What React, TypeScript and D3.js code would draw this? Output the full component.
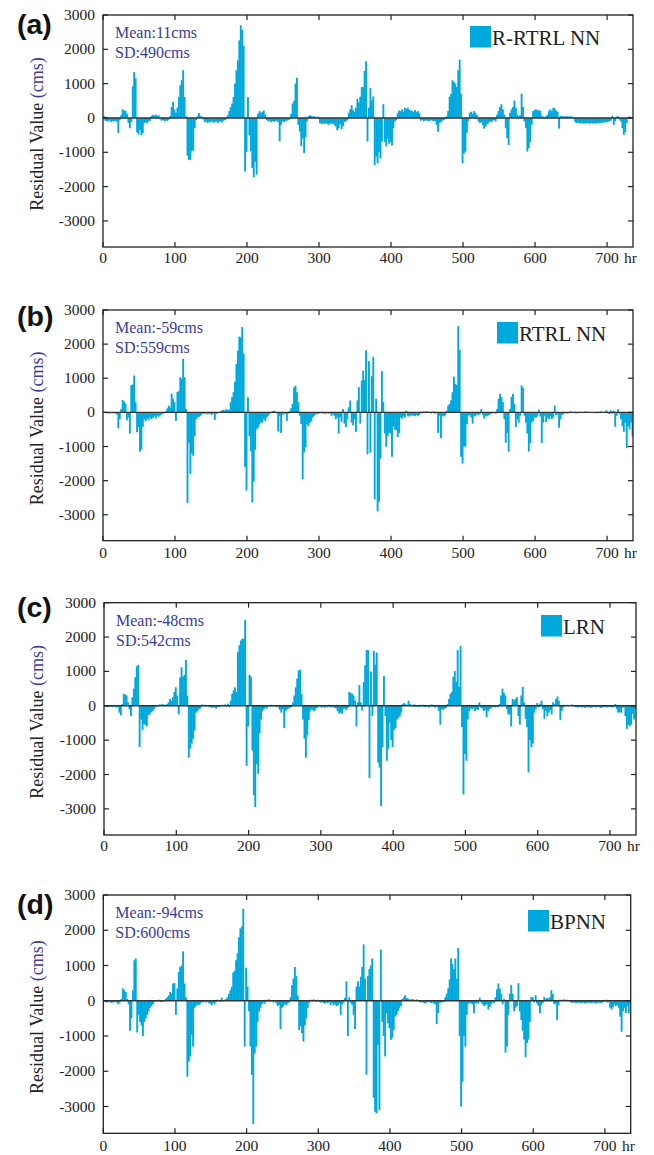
import React from "react";
import * as d3 from "d3";

// Hourly residuals aggregated into 2-hour bars, in cms.
const HOURS_PER_BAR = 2;
const HOUR_DOMAIN: [number, number] = [0, 736];
const VALUE_DOMAIN: [number, number] = [-3760, 3000];

const hourTicks = [0, 100, 200, 300, 400, 500, 600, 700];
const valueTicks = [3000, 2000, 1000, 0, -1000, -2000, -3000];

const panelLetters = ["(a)", "(b)", "(c)", "(d)"];
const modelNames = ["R-RTRL NN", "RTRL NN", "LRN", "BPNN"];
const meanLabels = ["Mean:11cms", "Mean:-59cms", "Mean:-48cms", "Mean:-94cms"];
const sdLabels = ["SD:490cms", "SD:559cms", "SD:542cms", "SD:600cms"];

const residualsRRTRL = [
  60, -80, -90, -100, -70, -120, -90, -100, -80, -110,
  -440, -60, 80, 250, 220, 200, 120, -150, -300, -120,
  920, 1340, 1150, -420, -480, -350, -500, -440, -150, -120,
  -160, -100, -80, 60, 90, 70, 100, 60, 80, -40,
  -80, -60, -100, -70, -90, -50, 60, 320, 470, 250,
  150, 300, 610, 950, 1100, 1390, 610, 50, -1100, -1220,
  -1220, -970, -950, -300, -60, 50, 140, 60, 40, -40,
  -120, -100, -150, -110, -130, -90, -140, -120, -100, -150,
  -110, -90, -130, -80, -60, -40, 80, 200, 320, 420,
  610, 1000, 1390, 1680, 2260, 2700, 2570, 2110, -1560, -990,
  610, -500, -970, -1460, -1730, -1280, -1650, 120, 200, 150,
  180, 220, 100, -60, -100, -80, -120, -90, -110, -100,
  -80, -120, -680, -200, -100, -120, -90, -80, -60, -40,
  120, 420, 500, 1000, 1170, -200, -400, -820, -600, -1020,
  -560, -100, 50, 80, 60, 40, 50, 30, 20, 40,
  -150, -170, -160, -180, -150, -170, -200, -150, -180, -160,
  -200, -250, -360, -300, -180, -330, -240, -120, -100, -60,
  150, 250, 370, 230, 180, 300, 560, 450, 620, 900,
  900, 1370, 1650, -690, 300, 880, 510, 630, -1370, -1130,
  -1320, -1000, -1180, -690, 400, -690, -830, -600, -750, -700,
  -800, -300, -100, -60, 150, 220, 200, 250, 180, 300,
  260, 300, 240, 220, 200, 180, 230, 170, 200, 150,
  -80, -60, -100, -80, -70, -90, -100, -60, -80, -90,
  -100, -200, -400, -150, -120, -80, -60, -40, 50, 200,
  610, 700, 1100, 1050, 1000, 900, 1390, 1700, 700, -1320,
  -1030, -980, -430, -100, 150, 180, 120, 200, 150, 80,
  -100, -150, -120, -200, -310, -250, -180, -150, -100, -120,
  -80, -60, -100, 100, 200, 320, 400, 250, 100, -300,
  -590, -790, 150, 250, 320, 510, 300, 100, 50, 80,
  710, 320, -100, -300, -980, -880, -700, -200, 200, 230,
  250, 220, 230, 200, 60, 40, -30, 50, 100, 200,
  250, 200, 300, 280, 220, 180, -310, 60, 50, 40,
  50, 40, 60, 30, 50, 40, 20, -100, -150, -140,
  -150, -160, -140, -170, -150, -160, -140, -170, -150, -160,
  -160, -150, -170, -140, -160, -150, -130, -140, -120, -130,
  -110, -100, -80, 60, -200, -100, 40, 50, -50, -100,
  -300, -490, -420, -150, 30, 40, 20, 10,
];

const residualsRTRL = [
  -20, -10, -30, -20, -40, -10, -30, -20, -40, -60,
  -470, -200, 100, 360, 320, 250, -230, -150, -620, 800,
  820, 1080, 300, -580, -430, -1150, -1090, -420, -200, -250,
  -180, -230, -150, -200, -160, -120, -180, -100, -130, -90,
  -60, -40, -30, 30, 120, 200, 150, 550, 400, 300,
  -250, 600, 620, 1030, 980, 1570, 1030, 100, -2660, -900,
  -1800, -1200, -1270, -700, -200, -150, -130, -100, -60, -40,
  -50, -30, -60, -40, -50, -70, -40, -220, -50, -30,
  -10, 30, 60, 80, 50, 100, 70, 80, 300, 450,
  600, 900, 1420, 1810, 2220, 2200, 2500, 1710, -1600, -2290,
  440, -700, -1140, -2640, -2030, -1100, -500, -440, -350, -290,
  -300, -200, -250, -150, -100, -50, -20, 30, 50, 20,
  -30, -560, -100, -600, -80, -30, -50, -250, -40, 40,
  120, 250, 730, 780, 590, 300, -100, -340, -1960, -1170,
  -1030, -350, -400, -300, -250, -150, -100, -60, -50, -40,
  -30, -20, -40, -30, -50, -20, -40, -30, -100, -60,
  -100, -200, -150, -620, -150, -280, 100, -330, -430, -200,
  150, 350, -300, -380, -200, -570, 350, 740, -330, 930,
  1220, 950, 1820, -1230, 1500, -1180, 1060, 1630, -2550, 400,
  -2900, -2620, -1350, 1210, 300, -620, -1010, -700, -600, -620,
  -1300, -400, -500, -520, -720, -600, -150, -180, -120, -150,
  50, -100, -120, -80, -100, -90, -110, -70, -100, -80,
  20, -30, 30, -20, 40, -10, 20, -30, 10, 30,
  -40, -20, -600, -100, -750, -100, -120, -80, 50, 200,
  250, 350, 590, 1050, 830, 800, 2530, 1830, -1300, -1500,
  -1000, -1000, -350, -100, -80, -150, -330, -120, -100, -60,
  -80, -50, 100, -80, -180, -120, -100, -90, -60, -40,
  -30, -20, -40, 100, 400, 540, 450, 300, -200, -890,
  -600, -1150, 100, 450, 540, 250, -430, -200, -300, -100,
  790, 720, -100, -300, -620, -1150, -900, -300, -250, -150,
  -150, -100, 80, -120, -900, -300, -100, -280, -150, -200,
  -120, -200, -150, 200, -80, -60, -450, -200, -80, -50,
  -30, -20, -40, -10, 30, -20, -10, 20, -30, -10,
  20, -10, 10, -20, 30, -10, 20, -20, 10, -10,
  -20, 10, -30, 20, -10, 30, -20, 10, 20, 60,
  -30, -50, 60, -40, 50, -420, -100, 100, -50, -200,
  -400, -570, -300, -1050, -400, -500, -300, -700,
];

const residualsLRN = [
  -30, -20, -40, -30, -20, -40, -30, -20, -50, -30,
  -200, -280, 50, 350, 330, 300, 100, -100, -300, 250,
  500, 830, 1150, 1190, -1200, -400, -700, -540, -550, -600,
  -280, -250, -190, -150, -100, -40, 20, -20, 40, 30,
  50, -10, 30, 50, 100, 200, 150, 250, 400, 540,
  300, -250, 830, 1120, 850, 900, 1340, 300, -1510, -1250,
  -1100, -960, -720, -200, -150, -100, -80, 40, -20, 30,
  -20, 20, -40, -30, -60, -40, -50, -80, -30, -40,
  -20, 30, -10, 40, 20, 60, -30, 150, 350, 450,
  540, 400, 1560, 1760, 1900, 1950, 1950, 2500, -1750, -600,
  900, 850, -1300, -2600, -2950, -1700, -1980, -800, -400, -150,
  -100, -50, -80, 20, -30, 30, -20, 10, -30, 20,
  -50, -120, -200, -100, -650, -150, -100, -80, -60, -30,
  100, 300, 540, 790, 1030, 1050, 350, -400, -960, -1510,
  -860, -420, -150, -100, -130, -150, -80, -60, 20, -30,
  -50, -30, -60, -20, -40, 30, -50, -30, -40, -60,
  -80, -150, -230, -200, -230, -100, -80, -120, -60, 400,
  380, 350, 300, 150, -600, 100, 600, 100, -140, 690,
  1180, 1620, 1620, -2100, 1000, -300, 1600, 1200, 1550, -1650,
  -1800, -2920, -1200, 870, -300, -1600, -1250, -500, -1000, -1200,
  -700, -650, -400, -350, -300, -200, 50, 80, 40, 30,
  150, 60, 30, -20, 40, -30, 20, -40, 30, -20,
  30, -40, -30, 20, -50, -30, 40, -20, -50, -30,
  -40, -150, -550, -100, -120, -80, -60, 50, 200, 350,
  400, 840, 1010, 700, 1620, 550, 1740, -620, -2580, -1400,
  -1600, -400, -150, -80, -100, -50, -150, -100, -120, 100,
  -50, -80, -150, -120, -330, -150, -100, -60, -50, -30,
  -50, -20, -40, 50, 300, 500, 370, 300, -100, -250,
  -250, -600, 200, 150, 200, 250, -300, -550, 300, 550,
  100, -380, -620, -1940, -1000, -1210, -1100, -200, -100, 80,
  -50, 60, 150, -100, -380, -150, -300, -200, -120, -250,
  100, 50, 200, 270, 150, -420, -150, -50, 30, 20,
  30, 10, 20, 40, 10, -30, -40, -50, -30, -40,
  -50, -40, -60, -30, -50, -40, -60, -50, -30, -40,
  -50, -30, -40, -60, -50, -40, -30, -50, -40, -30,
  -40, -50, -30, 50, -100, -200, -180, -200, -60, -30,
  -300, -670, -550, -600, -550, -230, -400, -100,
];

const residualsBPNN = [
  -30, -40, -50, -30, -40, -60, -50, -40, -30, -60,
  -100, -40, 50, 350, 300, 250, 50, -100, -850, -500,
  300, 1150, 1200, -900, -400, -600, -700, -1000, -600, -500,
  -400, -300, -200, -150, -100, -40, 20, -30, 30, -20,
  -40, -20, 20, 60, 100, 150, 250, 200, 490, 500,
  -400, 350, 820, 960, 1000, 1400, 490, 100, -2150, -1730,
  -1580, -970, -1300, -200, -150, -100, -120, -80, -50, -40,
  -30, -50, -20, -60, -80, -120, -60, -100, -40, 30,
  20, -30, 90, 20, 30, 50, 100, 200, 300, 400,
  800, 850, 1150, 1350, 1800, 2050, 2110, 2610, -1300, 940,
  400, -300, -1300, -2100, -3500, -1500, -1300, -600, -300, -200,
  -100, -50, -80, 30, -20, 40, -30, 20, -50, -20,
  -60, -150, -120, -800, -200, -150, -100, -120, -80, -50,
  100, 440, 630, 960, 700, 150, -830, -720, -920, -1160,
  -700, -500, -200, -60, 30, -20, 40, 20, -30, 30,
  -30, -50, -40, -60, -80, -50, -70, -40, -120, -60,
  -130, -100, -150, -130, -80, -400, -100, -50, 80, 550,
  -1000, 100, -60, -120, -400, -800, 400, 550, 400, 680,
  960, 1600, 630, -2100, 700, 900, 1000, 1200, -2750, -3150,
  -3200, -1250, -3100, 1450, -600, -1000, -1580, -360, -640, -780,
  -1110, -1050, -830, -450, -400, -300, -200, -150, 50, 100,
  160, 80, 60, 30, 40, 50, 30, 20, 40, 20,
  -30, -50, -40, -60, -80, -50, -40, -30, -60, -50,
  -80, -100, -660, -350, -60, -50, -40, -30, 100, 200,
  350, 600, 1200, 1040, 900, 1200, 630, 1500, -1000, -3000,
  -2300, -1000, -1300, -400, -100, -50, -80, -100, -360, -80,
  -60, -80, 90, -50, -100, -150, -120, -100, -250, -180,
  -100, -50, -60, 100, 320, 490, 350, 200, -100, 50,
  -1470, -1300, -400, 200, 450, 200, -300, -200, -150, 500,
  -300, -550, -850, -1100, -1600, -1200, -1100, -600, 110, 100,
  -50, 160, -80, -150, -360, -120, -60, 110, 50, 80,
  60, 100, 300, 200, -100, -80, -550, -120, 30, 20,
  30, 40, 20, 30, 10, -30, -50, -60, -40, -70,
  -60, -50, -70, -60, -50, -80, -60, -70, -50, -60,
  -70, -50, -60, -80, -60, -50, -70, -60, -40, -30,
  30, -50, -40, -200, -250, -180, -100, -150, -120, -200,
  -450, -880, -300, -200, -350, -150, -350, -100,
];

const seriesList = [residualsRRTRL, residualsRTRL, residualsLRN, residualsBPNN];

// Frame and annotation placement for each of the four stacked panels.
const panelFrames = [
  { left: 103, right: 633, top: 15, bottom: 247, letterY: 34, legendX: 470, legendY: 26, tickLabelGap: 16 },
  { left: 103, right: 633, top: 310, bottom: 540.7, letterY: 326, legendX: 497, legendY: 322, tickLabelGap: 17 },
  { left: 104, right: 636, top: 602.7, bottom: 835, letterY: 617, legendX: 541, legendY: 615, tickLabelGap: 15.5 },
  { left: 103.3, right: 630.7, top: 895, bottom: 1133.3, letterY: 914, legendX: 528, legendY: 910, tickLabelGap: 17.5 },
];

const BAR_COLOR = "#00a9dd";
const AXIS_COLOR = "#222";
const NOTE_COLOR = "#3a3d98";
const SERIF = "'Liberation Serif', 'Times New Roman', serif";
const SANS = "'Liberation Sans', Arial, sans-serif";

function Panel({ index }: { index: number }) {
  const f = panelFrames[index];
  const values = seriesList[index];
  const x = d3.scaleLinear().domain(HOUR_DOMAIN).range([f.left, f.right]);
  const y = d3.scaleLinear().domain(VALUE_DOMAIN).range([f.bottom, f.top]);
  const y0 = y(0);
  const tickLen = 5;
  const centerY = (f.top + f.bottom) / 2 + 3;
  // slight overlap so neighbouring bars merge without antialiasing seams
  const overlap = 0.45;

  return (
    <g>
      {/* residual bars */}
      <g>
        {values.map((v, i) => {
          const x0 = x(i * HOURS_PER_BAR);
          const x1 = x((i + 1) * HOURS_PER_BAR);
          const yv = y(v);
          return (
            <rect
              key={i}
              x={x0}
              width={Math.min(x1 - x0 + overlap, f.right - x0)}
              y={Math.min(yv, y0)}
              height={Math.abs(yv - y0)}
              fill={BAR_COLOR}
            />
          );
        })}
      </g>

      {/* zero baseline */}
      <line x1={f.left} x2={f.right} y1={y0} y2={y0} stroke="#333" strokeWidth={1.4} />

      {/* frame */}
      <rect
        x={f.left}
        y={f.top}
        width={f.right - f.left}
        height={f.bottom - f.top}
        fill="none"
        stroke={AXIS_COLOR}
        strokeWidth={1.3}
      />

      {/* inward ticks on all four sides */}
      {hourTicks.map((h) => (
        <g key={"h" + h}>
          <line x1={x(h)} x2={x(h)} y1={f.top} y2={f.top + tickLen} stroke={AXIS_COLOR} strokeWidth={1.2} />
          <line x1={x(h)} x2={x(h)} y1={f.bottom} y2={f.bottom - tickLen} stroke={AXIS_COLOR} strokeWidth={1.2} />
          <text
            x={x(h)}
            y={f.bottom + f.tickLabelGap}
            textAnchor="middle"
            fontFamily={SERIF}
            fontSize={15.5}
            fill={AXIS_COLOR}
          >
            {h}
          </text>
        </g>
      ))}
      <text
        x={x(700) + 17}
        y={f.bottom + f.tickLabelGap}
        fontFamily={SERIF}
        fontSize={15.5}
        fill={AXIS_COLOR}
      >
        hr
      </text>
      {valueTicks.map((v) => (
        <g key={"v" + v}>
          <line x1={f.left} x2={f.left + tickLen} y1={y(v)} y2={y(v)} stroke={AXIS_COLOR} strokeWidth={1.2} />
          <line x1={f.right} x2={f.right - tickLen} y1={y(v)} y2={y(v)} stroke={AXIS_COLOR} strokeWidth={1.2} />
          <text
            x={f.left - 8}
            y={y(v) + 5}
            textAnchor="end"
            fontFamily={SERIF}
            fontSize={15.5}
            fill={AXIS_COLOR}
          >
            {v}
          </text>
        </g>
      ))}

      {/* axis title */}
      <text
        transform="rotate(-90)"
        x={-centerY}
        y={43}
        textAnchor="middle"
        fontFamily={SERIF}
        fontSize={18}
        fill={AXIS_COLOR}
      >
        Residual Value <tspan fill={NOTE_COLOR}>(cms)</tspan>
      </text>

      {/* panel letter */}
      <text x={17} y={f.letterY} fontFamily={SANS} fontWeight="bold" fontSize={28.5} fill="#111">
        {panelLetters[index]}
      </text>

      {/* summary statistics */}
      <text x={f.left + 12} y={f.top + 23} fontFamily={SERIF} fontSize={16} fill={NOTE_COLOR}>
        {meanLabels[index]}
      </text>
      <text x={f.left + 12} y={f.top + 43} fontFamily={SERIF} fontSize={16} fill={NOTE_COLOR}>
        {sdLabels[index]}
      </text>

      {/* legend */}
      <rect x={f.legendX} y={f.legendY} width={21} height={21.5} fill={BAR_COLOR} />
      <text x={f.legendX + 22} y={f.legendY + 19} fontFamily={SERIF} fontSize={21} fill={AXIS_COLOR}>
        {modelNames[index]}
      </text>
    </g>
  );
}

export default function App() {
  return (
    <svg
      width={654}
      height={1155}
      viewBox="0 0 654 1155"
      style={{ position: "absolute", left: 0, top: 0, background: "#fff" }}
    >
      <rect x={0} y={0} width={654} height={1155} fill="#fff" />
      {panelFrames.map((_, i) => (
        <Panel key={i} index={i} />
      ))}
    </svg>
  );
}
